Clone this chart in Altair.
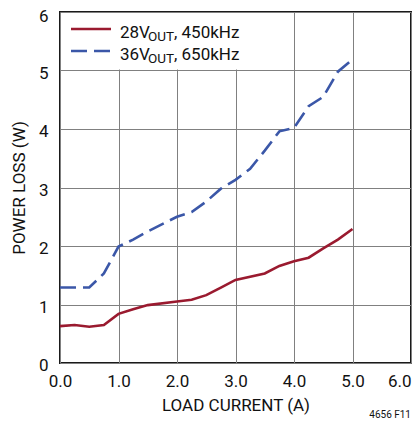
import altair as alt
import pandas as pd

# ---- data ----
x_ticks = [0, 1, 2, 3, 4, 5, 6]
y_ticks = [0, 1, 2, 3, 4, 5, 6]

current_28v = [0.0, 0.25, 0.5, 0.75, 1.0, 1.25, 1.5, 2.0, 2.25, 2.5, 2.75, 3.0, 3.5, 3.75, 4.0, 4.25, 4.5, 4.75, 5.0]
loss_28v = [0.63, 0.65, 0.62, 0.65, 0.84, 0.92, 0.99, 1.05, 1.08, 1.16, 1.29, 1.42, 1.53, 1.66, 1.74, 1.80, 1.96, 2.11, 2.29]

current_36v = [0.0, 0.5, 0.75, 1.0, 1.25, 1.5, 2.0, 2.25, 2.5, 2.75, 3.0, 3.25, 3.5, 3.75, 4.0, 4.25, 4.5, 4.75, 5.0]
loss_36v = [1.29, 1.29, 1.53, 1.99, 2.11, 2.25, 2.50, 2.58, 2.76, 2.98, 3.13, 3.32, 3.63, 3.96, 4.02, 4.39, 4.55, 4.98, 5.19]

series1_parts = ["28V", "OUT", ", 450kHz"]
series2_parts = ["36V", "OUT", ", 650kHz"]
x_title = "LOAD CURRENT (A)"
y_title = "POWER LOSS (W)"
fig_label = "4656 F11"

FONT = "Roboto"
RED = "#9a1a2f"
BLUE = "#3b57a8"
TEXT = "#111111"
W, H = 351, 351

df28 = pd.DataFrame({"current": current_28v, "loss": loss_28v})
df36 = pd.DataFrame({"current": current_36v, "loss": loss_36v})
one = pd.DataFrame({"k": [0]})

x_enc = alt.X(
    "current:Q",
    scale=alt.Scale(domain=[0, 6], nice=False, zero=False),
    axis=alt.Axis(values=x_ticks, format=".1f", title=x_title, labelPadding=10,
                  labelAlign={"expr": "datum.value >= 6 ? 'right' : 'center'"},
                  titlePadding=8, labelFlush=False, labelOverlap=False),
)
y_enc = alt.Y(
    "loss:Q",
    scale=alt.Scale(domain=[0, 6], nice=False),
    axis=alt.Axis(values=y_ticks, format="d", title=y_title, labelPadding=12,
                  labelOffset={"expr": "datum.value >= 6 ? 4.5 : 2.5"},
                  titlePadding=10, labelFlush=False, labelOverlap=False),
)

line28 = alt.Chart(df28).mark_line(color=RED, strokeWidth=2.6).encode(x=x_enc, y=y_enc)
line36 = alt.Chart(df36).mark_line(color=BLUE, strokeWidth=2.6, strokeDash=[16, 7]).encode(x=x_enc, y=y_enc)

legend_bg = alt.Chart(one).mark_rect(fill="white", stroke=None).encode(
    x=alt.value(1), x2=alt.value(186), y=alt.value(1), y2=alt.value(57.5)
)
leg_red = alt.Chart(one).mark_rule(color=RED, strokeWidth=2.6).encode(
    x=alt.value(11), x2=alt.value(51), y=alt.value(17)
)
leg_blue = alt.Chart(one).mark_rule(color=BLUE, strokeWidth=2.6, strokeDash=[16, 7]).encode(
    x=alt.value(11), x2=alt.value(51), y=alt.value(39)
)


def txt(s, x, y, size=17, align="left"):
    return alt.Chart(one).mark_text(
        font=FONT, fontSize=size, align=align, baseline="alphabetic", color=TEXT
    ).encode(x=alt.value(x), y=alt.value(y), text=alt.value(s))


legend_texts = [
    txt(series1_parts[0], 60, 25.5),
    txt(series1_parts[1], 88, 29, size=13.5),
    txt(series1_parts[2], 114, 25.5),
    txt(series2_parts[0], 60, 47.5),
    txt(series2_parts[1], 88, 51, size=13.5),
    txt(series2_parts[2], 114, 47.5),
]
fig_txt = txt(fig_label, W, 406, size=10, align="right")

chart = alt.layer(line28, line36, legend_bg, leg_red, leg_blue, *legend_texts, fig_txt).properties(
    width=W,
    height=H,
    autosize=alt.AutoSizeParams(type="none"),
    padding={"left": 52, "top": 4, "right": 1, "bottom": 56},
).configure_view(
    stroke="#1a1a1a", strokeWidth=2
).configure_axis(
    grid=True, gridColor="#808080", gridWidth=1, domain=False, ticks=False,
    labelFont=FONT, labelFontSize=17, labelColor=TEXT,
    titleFont=FONT, titleFontSize=17, titleFontWeight="normal", titleColor=TEXT,
)

chart.save("out.html", embed_options={"renderer": "svg", "actions": False})
